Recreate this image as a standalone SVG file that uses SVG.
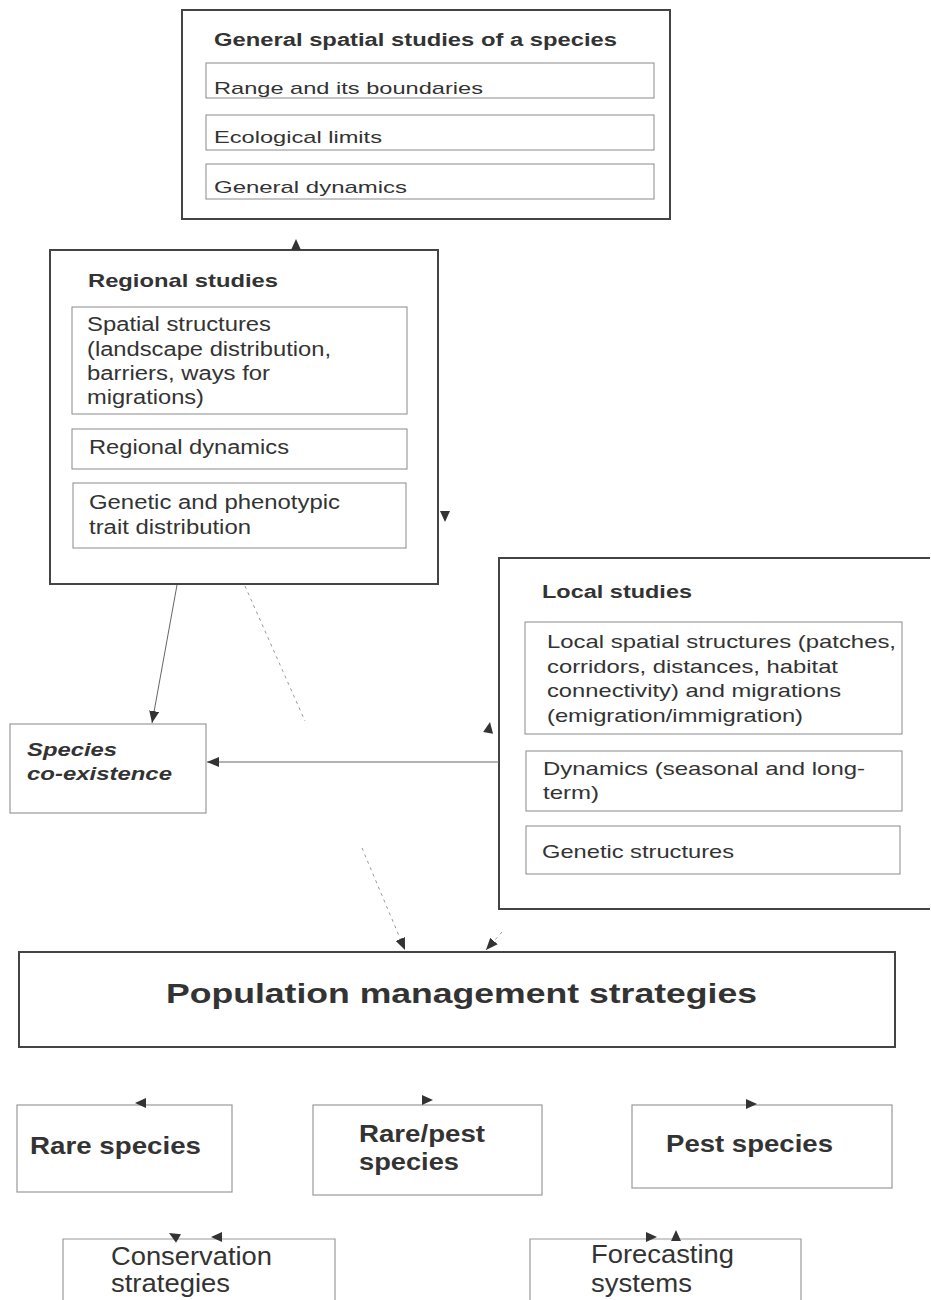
<svg xmlns="http://www.w3.org/2000/svg" xmlns:xlink="http://www.w3.org/1999/xlink" width="931" height="1300" viewBox="0 0 931 1300">
<style>
text{font-family:"Liberation Sans",Arial,sans-serif;fill:#333}
.b{font-weight:bold}
.outer{fill:none;stroke:#444;stroke-width:2}
.sub{fill:none;stroke:#8a8a8a;stroke-width:1}
.light{fill:none;stroke:#999;stroke-width:1.2}
.conn{fill:none;stroke:#666;stroke-width:1}
.dot{fill:none;stroke:#999;stroke-width:1;stroke-dasharray:3 4}
.ah{fill:#333}
</style>
<defs>
<path id="ah" d="M0,0 L-11,-5 L-11,5 Z"/>
<marker id="m" viewBox="0 0 12 10" refX="12" refY="5" markerWidth="12" markerHeight="10" markerUnits="userSpaceOnUse" orient="auto">
<path d="M0,0 L12,5 L0,10 Z" fill="#333"/>
</marker>
</defs>

<g id="general">
<rect class="outer" x="182" y="10" width="488" height="209"/>
<text class="b" x="214" y="46" font-size="18" textLength="403" lengthAdjust="spacingAndGlyphs">General spatial studies of a species</text>
<rect class="sub" x="206" y="63" width="448" height="35"/>
<text x="214" y="94" font-size="17" textLength="269" lengthAdjust="spacingAndGlyphs">Range and its boundaries</text>
<rect class="sub" x="206" y="115" width="448" height="35"/>
<text x="214" y="143" font-size="17" textLength="168" lengthAdjust="spacingAndGlyphs">Ecological limits</text>
<rect class="sub" x="206" y="164" width="448" height="35"/>
<text x="214" y="193" font-size="17" textLength="193" lengthAdjust="spacingAndGlyphs">General dynamics</text>
</g>

<g id="regional">
<rect class="outer" x="50" y="250" width="388" height="334"/>
<text class="b" x="88" y="287" font-size="19" textLength="190" lengthAdjust="spacingAndGlyphs">Regional studies</text>
<rect class="sub" x="72" y="307" width="335" height="107"/>
<text x="87" y="331" font-size="20" textLength="184" lengthAdjust="spacingAndGlyphs">Spatial structures</text>
<text x="87" y="356" font-size="20" textLength="244" lengthAdjust="spacingAndGlyphs">(landscape distribution,</text>
<text x="87" y="380" font-size="20" textLength="183" lengthAdjust="spacingAndGlyphs">barriers, ways for</text>
<text x="87" y="404" font-size="20" textLength="117" lengthAdjust="spacingAndGlyphs">migrations)</text>
<rect class="sub" x="72" y="429" width="335" height="40"/>
<text x="89" y="454" font-size="20" textLength="200" lengthAdjust="spacingAndGlyphs">Regional dynamics</text>
<rect class="sub" x="73" y="483" width="333" height="65"/>
<text x="89" y="509" font-size="20" textLength="251" lengthAdjust="spacingAndGlyphs">Genetic and phenotypic</text>
<text x="89" y="534" font-size="20" textLength="162" lengthAdjust="spacingAndGlyphs">trait distribution</text>
</g>

<g id="local">
<path class="outer" d="M930,558 L499,558 L499,909 L930,909"/>
<text class="b" x="542" y="598" font-size="18" textLength="150" lengthAdjust="spacingAndGlyphs">Local studies</text>
<rect class="sub" x="525" y="622" width="377" height="112"/>
<text x="547" y="648" font-size="19" textLength="349" lengthAdjust="spacingAndGlyphs">Local spatial structures (patches,</text>
<text x="547" y="673" font-size="19" textLength="291" lengthAdjust="spacingAndGlyphs">corridors, distances, habitat</text>
<text x="547" y="697" font-size="19" textLength="294" lengthAdjust="spacingAndGlyphs">connectivity) and migrations</text>
<text x="547" y="722" font-size="19" textLength="256" lengthAdjust="spacingAndGlyphs">(emigration/immigration)</text>
<rect class="sub" x="526" y="751" width="376" height="60"/>
<text x="543" y="775" font-size="19" textLength="322" lengthAdjust="spacingAndGlyphs">Dynamics (seasonal and long-</text>
<text x="543" y="799" font-size="19" textLength="56" lengthAdjust="spacingAndGlyphs">term)</text>
<rect class="sub" x="526" y="826" width="374" height="48"/>
<text x="542" y="858" font-size="19" textLength="192" lengthAdjust="spacingAndGlyphs">Genetic structures</text>
</g>

<g id="coexistence">
<rect class="light" x="10" y="724" width="196" height="89"/>
<text class="b" x="27" y="756" font-size="18" font-style="italic" textLength="90" lengthAdjust="spacingAndGlyphs">Species</text>
<text class="b" x="27" y="780" font-size="18" font-style="italic" textLength="145" lengthAdjust="spacingAndGlyphs">co-existence</text>
</g>

<g id="population">
<rect class="outer" x="19" y="952" width="876" height="95" stroke="#555"/>
<text class="b" x="166" y="1003" font-size="28" textLength="591" lengthAdjust="spacingAndGlyphs">Population management strategies</text>
</g>

<g id="rare">
<rect class="light" x="17" y="1105" width="215" height="87"/>
<text class="b" x="30" y="1154" font-size="24" textLength="171" lengthAdjust="spacingAndGlyphs">Rare species</text>
</g>

<g id="rarepest">
<rect class="light" x="313" y="1105" width="229" height="90"/>
<text class="b" x="359" y="1142" font-size="23" textLength="126" lengthAdjust="spacingAndGlyphs">Rare/pest</text>
<text class="b" x="359" y="1170" font-size="23" textLength="100" lengthAdjust="spacingAndGlyphs">species</text>
</g>

<g id="pest">
<rect class="light" x="632" y="1105" width="260" height="83"/>
<text class="b" x="666" y="1152" font-size="24" textLength="167" lengthAdjust="spacingAndGlyphs">Pest species</text>
</g>

<g id="conservation">
<path class="light" d="M63,1305 L63,1239 L335,1239 L335,1305"/>
<text x="111" y="1265" font-size="25" textLength="161" lengthAdjust="spacingAndGlyphs">Conservation</text>
<text x="111" y="1292" font-size="25" textLength="119" lengthAdjust="spacingAndGlyphs">strategies</text>
</g>

<g id="forecasting">
<path class="light" d="M530,1305 L530,1239 L801,1239 L801,1305"/>
<text x="591" y="1263" font-size="25" textLength="143" lengthAdjust="spacingAndGlyphs">Forecasting</text>
<text x="591" y="1292" font-size="25" textLength="101" lengthAdjust="spacingAndGlyphs">systems</text>
</g>

<g id="connectors">
<line class="conn" x1="177" y1="585" x2="152" y2="723" marker-end="url(#m)"/>
<line class="conn" x1="499" y1="762" x2="207" y2="762" marker-end="url(#m)"/>
<line class="dot" x1="245" y1="586" x2="305" y2="721"/>
<line class="dot" x1="362" y1="848" x2="405" y2="950" marker-end="url(#m)"/>
<line class="dot" x1="502" y1="932" x2="486" y2="950" marker-end="url(#m)"/>
<use xlink:href="#ah" class="ah" transform="translate(296,239) rotate(-90)"/>
<use xlink:href="#ah" class="ah" transform="translate(445,522) rotate(90)"/>
<use xlink:href="#ah" class="ah" transform="translate(490,722) rotate(-80)"/>
<use xlink:href="#ah" class="ah" transform="translate(135,1103) rotate(180)"/>
<use xlink:href="#ah" class="ah" transform="translate(433,1100) rotate(0)"/>
<use xlink:href="#ah" class="ah" transform="translate(757,1104) rotate(0)"/>
<use xlink:href="#ah" class="ah" transform="translate(169,1233) rotate(-150)"/>
<use xlink:href="#ah" class="ah" transform="translate(211,1237) rotate(180)"/>
<use xlink:href="#ah" class="ah" transform="translate(657,1237) rotate(0)"/>
<use xlink:href="#ah" class="ah" transform="translate(676,1230) rotate(-90)"/>
</g>
</svg>
